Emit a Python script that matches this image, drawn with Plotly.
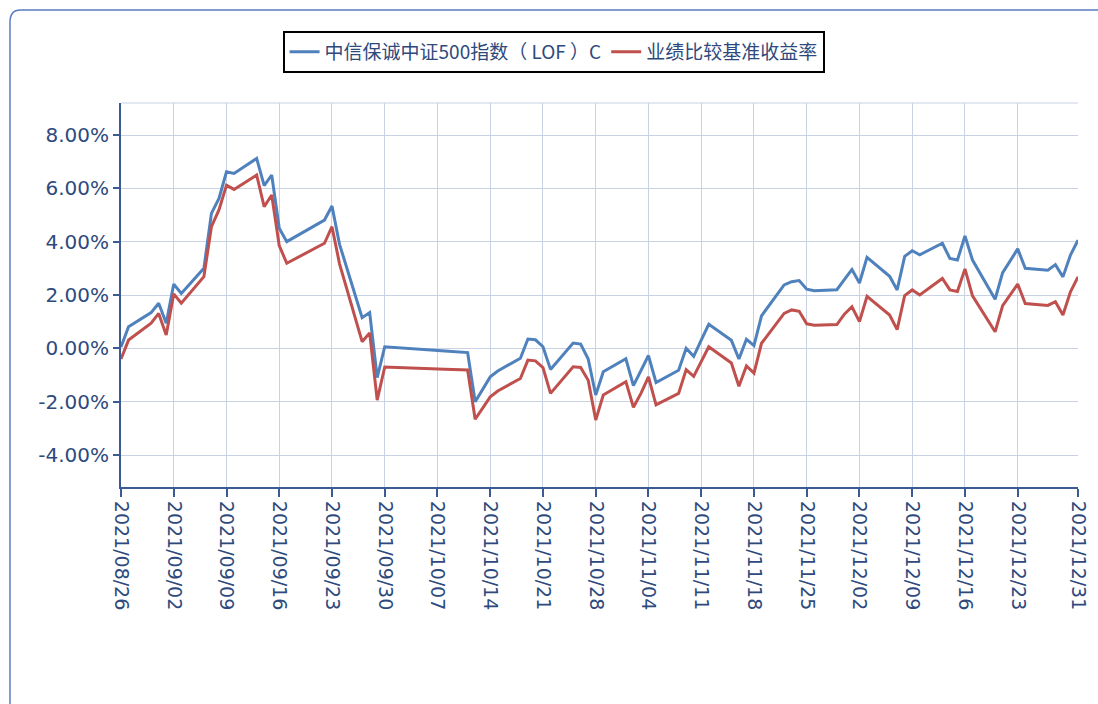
import plotly.graph_objects as go

dates = [
    "2021-08-26", "2021-08-27", "2021-08-30", "2021-08-31", "2021-09-01", "2021-09-02", "2021-09-03",
    "2021-09-06", "2021-09-07", "2021-09-08", "2021-09-09", "2021-09-10",
    "2021-09-13", "2021-09-14", "2021-09-15", "2021-09-16", "2021-09-17",
    "2021-09-22", "2021-09-23", "2021-09-24",
    "2021-09-27", "2021-09-28", "2021-09-29", "2021-09-30",
    "2021-10-08",
    "2021-10-11", "2021-10-12", "2021-10-13", "2021-10-14", "2021-10-15",
    "2021-10-18", "2021-10-19", "2021-10-20", "2021-10-21", "2021-10-22",
    "2021-10-25", "2021-10-26", "2021-10-27", "2021-10-28", "2021-10-29",
    "2021-11-01", "2021-11-02", "2021-11-03", "2021-11-04", "2021-11-05",
    "2021-11-08", "2021-11-09", "2021-11-10", "2021-11-11", "2021-11-12",
    "2021-11-15", "2021-11-16", "2021-11-17", "2021-11-18", "2021-11-19",
    "2021-11-22", "2021-11-23", "2021-11-24", "2021-11-25", "2021-11-26",
    "2021-11-29", "2021-11-30", "2021-12-01", "2021-12-02", "2021-12-03",
    "2021-12-06", "2021-12-07", "2021-12-08", "2021-12-09", "2021-12-10",
    "2021-12-13", "2021-12-14", "2021-12-15", "2021-12-16", "2021-12-17",
    "2021-12-20", "2021-12-21", "2021-12-22", "2021-12-23", "2021-12-24",
    "2021-12-27", "2021-12-28", "2021-12-29", "2021-12-30", "2021-12-31",
]

fund = [
    0.05, 0.81, 1.34, 1.69, 0.94, 2.41, 2.06,
    3.00, 5.06, 5.62, 6.62, 6.56,
    7.12, 6.10, 6.50, 4.50, 4.00,
    4.81, 5.34, 3.90,
    1.15, 1.34, -1.10, 0.06,
    -0.10,
    -0.16, -2.00, -1.53, -1.07, -0.85,
    -0.37, 0.35, 0.32, 0.06, -0.79,
    0.20, 0.16, -0.40, -1.75, -0.88,
    -0.39, -1.40, -0.81, -0.27, -1.28,
    -0.82, 0.00, -0.30, 0.31, 0.90,
    0.30, -0.40, 0.34, 0.10, 1.22,
    2.38, 2.50, 2.54, 2.22, 2.16,
    2.20, 2.56, 2.96, 2.45, 3.41,
    2.70, 2.19, 3.45, 3.66, 3.51,
    3.94, 3.37, 3.31, 4.21, 3.31,
    1.84, 2.84, 3.28, 3.73, 3.00,
    2.93, 3.14, 2.68, 3.50, 4.06,
]

bench = [
    -0.40, 0.31, 0.94, 1.31, 0.50, 2.04, 1.69,
    2.69, 4.56, 5.19, 6.12, 5.96,
    6.50, 5.31, 5.75, 3.85, 3.19,
    3.94, 4.56, 3.17,
    0.25, 0.58, -1.94, -0.70,
    -0.78,
    -0.81, -2.66, -2.25, -1.82, -1.60,
    -1.13, -0.44, -0.47, -0.72, -1.69,
    -0.69, -0.72, -1.20, -2.69, -1.75,
    -1.25, -2.21, -1.69, -1.07, -2.12,
    -1.69, -0.80, -1.05, -0.50, 0.06,
    -0.55, -1.42, -0.66, -0.93, 0.19,
    1.31, 1.44, 1.39, 0.92, 0.87,
    0.89, 1.28, 1.56, 1.00, 1.95,
    1.25, 0.70, 1.98, 2.19, 2.00,
    2.62, 2.19, 2.13, 2.98, 1.97,
    0.62, 1.60, 2.00, 2.41, 1.68,
    1.61, 1.75, 1.25, 2.12, 2.68,
]

series_names = ["中信保诚中证500指数（ LOF ）C", "业绩比较基准收益率"]
series_colors = ["#4f81bd", "#c0504d"]

tick_dates = [
    "2021-08-26", "2021-09-02", "2021-09-09", "2021-09-16", "2021-09-23", "2021-09-30",
    "2021-10-07", "2021-10-14", "2021-10-21", "2021-10-28", "2021-11-04", "2021-11-11",
    "2021-11-18", "2021-11-25", "2021-12-02", "2021-12-09", "2021-12-16", "2021-12-23",
    "2021-12-31",
]
tick_labels = [d.replace("-", "/") for d in tick_dates]

y_ticks = [-4, -2, 0, 2, 4, 6, 8]

FONT = "Noto Sans CJK SC, Noto Sans, sans-serif"
TXT = "#2e4a7d"
AXIS = "#3b5b95"
GRID = "#c9d2e3"

fig = go.Figure()
for name, vals, col in zip(series_names, [fund, bench], series_colors):
    fig.add_trace(go.Scatter(
        x=dates, y=vals, name=name, mode="lines",
        line=dict(color=col, width=3),
    ))

fig.update_layout(
    width=1098, height=704,
    margin=dict(l=121, r=20, t=103, b=217, autoexpand=False),
    paper_bgcolor="white", plot_bgcolor="white",
    font=dict(family=FONT, color=TXT, size=17),
    showlegend=True,
    legend=dict(
        orientation="h", x=0.452, y=1.133, xanchor="center", yanchor="middle",
        bordercolor="#000000", borderwidth=2, bgcolor="white",
        font=dict(size=19, color=TXT, family=FONT),
        itemwidth=30,
    ),
    xaxis=dict(
        type="date", automargin=False,
        range=["2021-08-26", "2021-12-31"],
        tickmode="array", tickvals=tick_dates, ticktext=tick_labels,
        tickangle=90,
        showgrid=True, gridcolor=GRID, gridwidth=1,
        showline=True, linecolor=AXIS, linewidth=2,
        ticks="outside", ticklen=8, tickcolor=AXIS, tickwidth=2,
        tickfont=dict(size=19, color=TXT, family="DejaVu Sans, sans-serif"),
        zeroline=False,
    ),
    yaxis=dict(
        automargin=False,
        range=[-5.2, 9.2],
        tickmode="array", tickvals=y_ticks,
        ticktext=[f"{v:.2f}%" for v in y_ticks],
        showgrid=True, gridcolor=GRID, gridwidth=1,
        showline=True, linecolor=AXIS, linewidth=2,
        ticks="outside", ticklen=6, tickcolor=AXIS, tickwidth=2,
        tickfont=dict(size=20, color=TXT, family="DejaVu Sans, sans-serif"),
        zeroline=False,
    ),
    shapes=[
        dict(type="line", xref="paper", yref="paper", x0=0, x1=1, y0=1, y1=1,
             line=dict(color=GRID, width=1)),
        dict(type="path", xref="paper", yref="paper",
             path="M -0.116,-0.6 L -0.116,1.21 Q -0.116,1.242 -0.105,1.242 L 1.05,1.242",
             line=dict(color="#5b7cc0", width=1.5)),
    ],
)

fig.write_html("out.html", post_script="document.body.style.margin='0';",
               config={"displayModeBar": False})
